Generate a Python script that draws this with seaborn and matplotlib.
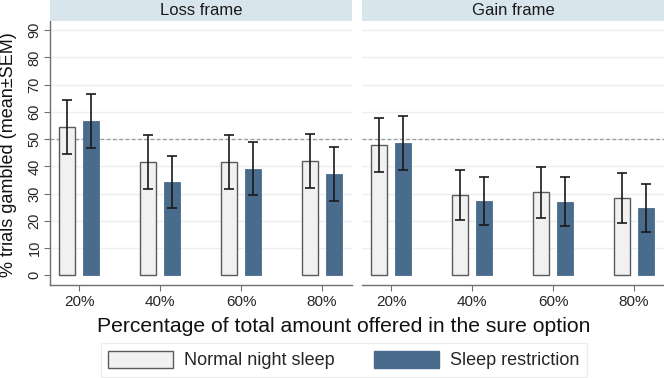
import matplotlib
matplotlib.use("Agg")
import matplotlib.pyplot as plt
import seaborn as sns
import pandas as pd
import numpy as np
from matplotlib.patches import Patch

# ---- data ----
frames = ["Loss frame", "Gain frame"]
offers = ["20%", "40%", "60%", "80%"]
conditions = ["Normal night sleep", "Sleep restriction"]

loss_normal = [54.4, 41.5, 41.5, 41.9]
loss_restr = [56.6, 34.4, 39.2, 37.2]
gain_normal = [47.8, 29.6, 30.5, 28.4]
gain_restr = [48.5, 27.3, 27.0, 24.7]

loss_normal_sem = [10.0, 9.9, 9.9, 10.0]
loss_restr_sem = [10.0, 9.6, 9.8, 9.8]
gain_normal_sem = [10.0, 9.2, 9.3, 9.1]
gain_restr_sem = [10.0, 8.9, 9.0, 8.7]

yticks = [0, 10, 20, 30, 40, 50, 60, 70, 80, 90]

xlabel = "Percentage of total amount offered in the sure option"
ylabel = "% trials gambled (mean\u00b1SEM)"

# ---- build table ----
rows = []
for fr, nm, rs, nse, rse in [
    (frames[0], loss_normal, loss_restr, loss_normal_sem, loss_restr_sem),
    (frames[1], gain_normal, gain_restr, gain_normal_sem, gain_restr_sem),
]:
    for i, o in enumerate(offers):
        rows.append(dict(frame=fr, offer=o, cond=conditions[0], mean=nm[i], sem=nse[i]))
        rows.append(dict(frame=fr, offer=o, cond=conditions[1], mean=rs[i], sem=rse[i]))
df = pd.DataFrame(rows)

sns.set_style("white")
plt.rcParams["font.family"] = ["Liberation Sans", "DejaVu Sans"]

light = "#f1f1f1"
blue = "#4a6c8c"
edge_light = "#5a5a5a"
strip_col = "#d9e5ed"
grid_col = "#e9f0f2"
spine_col = "#6e6e6e"

W, H = 664, 378
fig = plt.figure(figsize=(W / 100, H / 100), dpi=100)

panels = [(50, 352), (362, 664)]
top_px, bot_px = 21, 285
ylim = (-3.56, 93.4)
xlim = (-0.358, 3.37)

for k, fr in enumerate(frames):
    x0, x1 = panels[k]
    ax = fig.add_axes([x0 / W, (H - bot_px) / H, (x1 - x0) / W, (bot_px - top_px) / H])
    sub = df[df.frame == fr]
    sns.barplot(data=sub, x="offer", y="mean", hue="cond", order=offers,
                hue_order=conditions, palette=[light, blue], errorbar=None,
                width=0.6, gap=0.33, saturation=1, ax=ax, legend=False, zorder=3)
    bar_conts = list(ax.containers)
    # style bars and add error bars
    for ci, cont in enumerate(bar_conts):
        vals = sub[sub.cond == conditions[ci]].set_index("offer").loc[offers]
        xs = [p.get_x() + p.get_width() / 2 for p in cont.patches]
        for p in cont.patches:
            if ci == 0:
                p.set_edgecolor(edge_light)
                p.set_linewidth(1.0)
            else:
                p.set_edgecolor(blue)
                p.set_linewidth(0.6)
        ax.errorbar(xs, vals["mean"].values, yerr=vals["sem"].values, fmt="none",
                    ecolor="#1a1a1a", elinewidth=1.2, capsize=3.5, capthick=1.2, zorder=4)
    ax.set_ylim(*ylim)
    ax.set_xlim(*xlim)
    ax.set_yticks(yticks)
    for y in yticks[1:]:
        ax.axhline(y, color=grid_col, lw=1.0, zorder=0)
    ax.axhline(50, color="#9a9a9a", lw=0.9, ls=(0, (3, 2)), zorder=1)
    ax.set_xlabel("")
    ax.set_ylabel("")
    for s in ["top", "right"]:
        ax.spines[s].set_visible(False)
    ax.spines["bottom"].set_color(spine_col)
    ax.spines["bottom"].set_linewidth(1.0)
    ax.tick_params(axis="x", length=4, width=0.8, color=spine_col, labelsize=11, pad=3,
                   bottom=True)
    if k == 0:
        ax.spines["left"].set_color(spine_col)
        ax.spines["left"].set_linewidth(1.0)
        ax.tick_params(axis="y", length=4, width=0.8, color=spine_col, labelsize=10.5,
                       left=True, pad=2)
        for lab in ax.get_yticklabels():
            lab.set_rotation(90)
            lab.set_va("center")
    else:
        ax.spines["left"].set_visible(False)
        ax.tick_params(axis="y", left=False, labelleft=False)
    # strip
    sax = fig.add_axes([x0 / W, (H - top_px) / H, (x1 - x0) / W, top_px / H])
    sax.set_facecolor(strip_col)
    sax.set_xticks([]); sax.set_yticks([])
    for s in sax.spines.values():
        s.set_visible(False)
    sax.text(0.5, 0.5, fr, ha="center", va="center", fontsize=12, color="#1a1a1a",
             transform=sax.transAxes)

fig.text(344 / W, (H - 327) / H, xlabel, ha="center", va="center", fontsize=15.2,
         color="#111111")
fig.text(9 / W, (H - 155) / H, ylabel, ha="center", va="center", rotation=90,
         fontsize=13, color="#111111")

handles = [Patch(facecolor=light, edgecolor=edge_light, linewidth=1.0),
           Patch(facecolor=blue, edgecolor=blue)]
leg = fig.legend(handles, conditions, loc="center", bbox_to_anchor=(344 / W, (H - 360) / H),
                 ncol=2, fontsize=13, frameon=True, fancybox=False, handlelength=3.6,
                 handleheight=1.1, columnspacing=2.2, handletextpad=0.6,
                 borderpad=0.4, edgecolor="#e6e6e6")
leg.get_frame().set_linewidth(0.8)

fig.savefig("out.png", dpi=100)
